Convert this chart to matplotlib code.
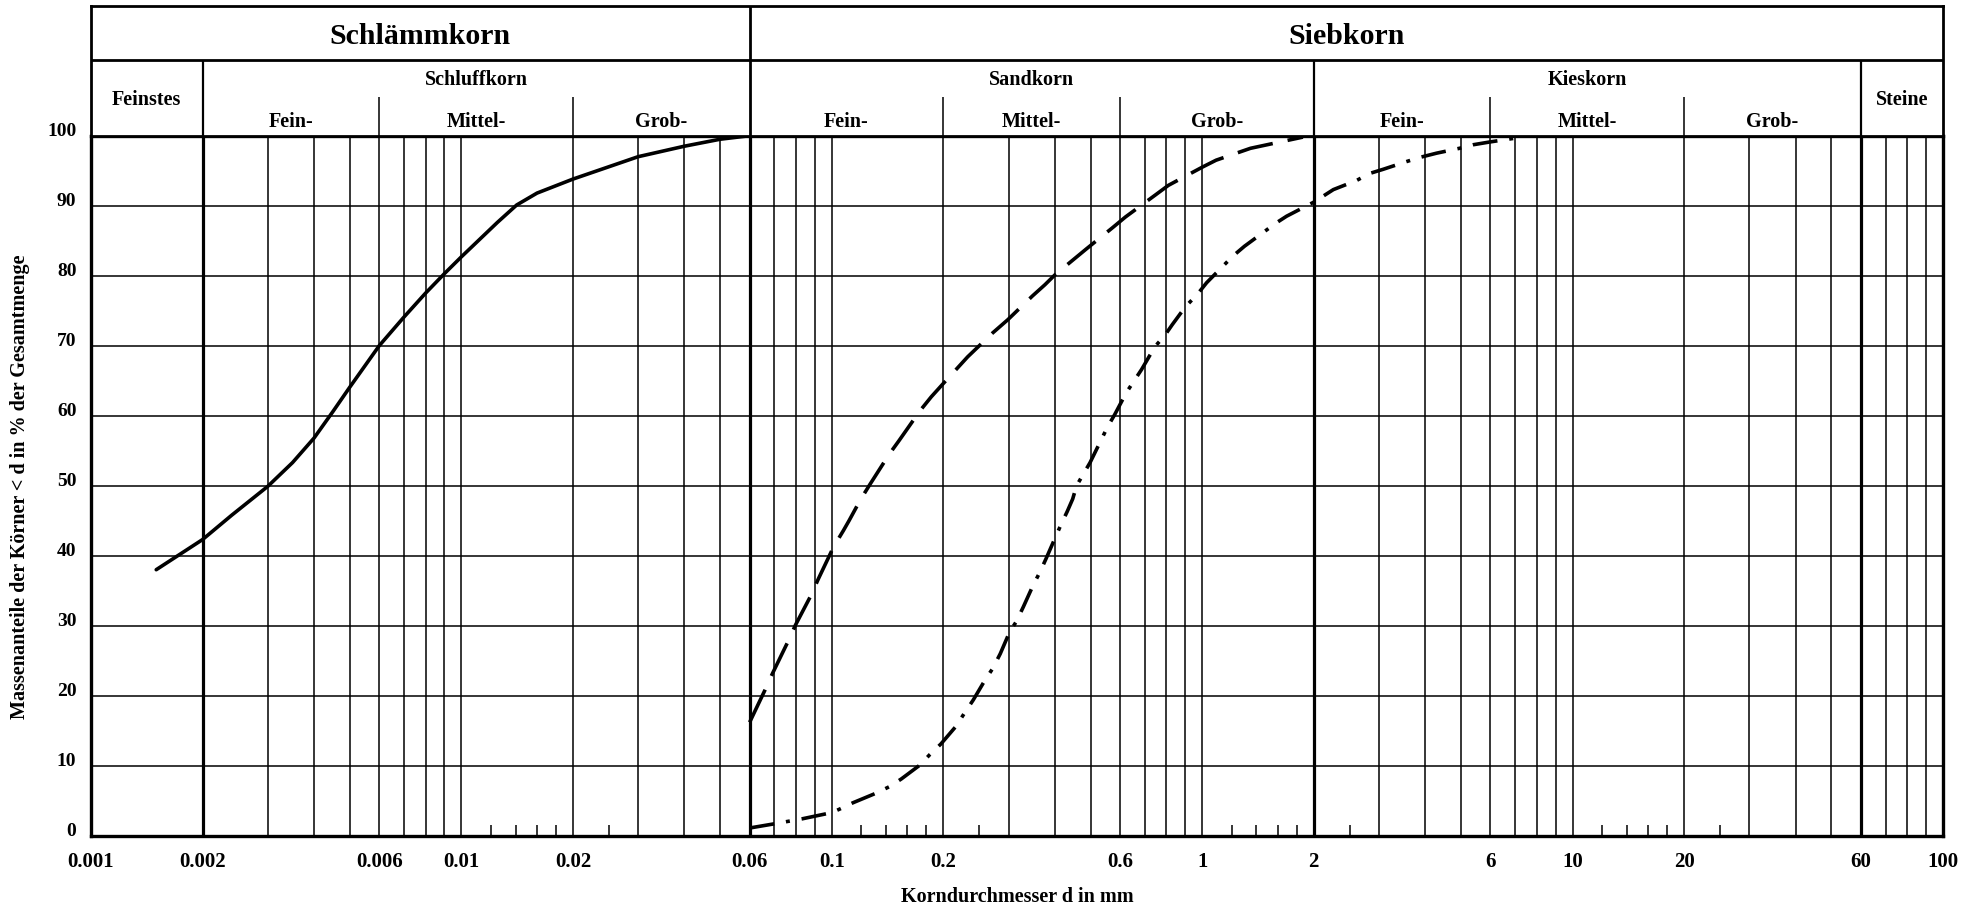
import matplotlib
matplotlib.use('Agg')
import matplotlib.pyplot as plt
from matplotlib.ticker import NullLocator

plt.rcParams['font.family'] = ['Liberation Serif', 'DejaVu Serif']
plt.rcParams['font.weight'] = 'bold'

# --- data (grain diameter in mm, % passing) ---
SOLID_D = [0.0015, 0.002, 0.0024, 0.003, 0.0035, 0.004, 0.0045, 0.005, 0.006,
           0.007, 0.008, 0.009, 0.01, 0.0125, 0.0141, 0.016, 0.02, 0.03, 0.04,
           0.05, 0.06, 0.08]
SOLID_P = [38.0, 42.3, 45.8, 49.9, 53.3, 56.8, 60.6, 64.1, 70.0,
           74.1, 77.5, 80.3, 82.7, 87.6, 90.1, 91.8, 93.8, 97.0, 98.5,
           99.5, 100.0, 100.0]

DASH_D = [0.06, 0.066, 0.0692, 0.0761, 0.0798, 0.0878, 0.092, 0.1012, 0.1075,
          0.1113, 0.1195, 0.1268, 0.1429, 0.1517, 0.173, 0.1856, 0.2, 0.214,
          0.2326, 0.2715, 0.2985, 0.348, 0.376, 0.4, 0.442, 0.486, 0.574,
          0.621, 0.746, 0.81, 1.0, 1.09, 1.35, 1.87]
DASH_P = [16.2, 20.8, 23.2, 27.7, 30.1, 34.3, 36.7, 41.3, 43.6,
          45.0, 48.0, 50.2, 54.5, 56.4, 60.7, 62.7, 64.6, 66.3,
          68.4, 71.8, 73.7, 77.1, 78.7, 80.1, 82.0, 83.8, 86.9,
          88.4, 91.5, 92.9, 95.5, 96.5, 98.2, 99.8]

DASHDOT_D = [0.06, 0.07, 0.083, 0.1, 0.105, 0.114, 0.132, 0.143, 0.154, 0.173,
             0.184, 0.197, 0.217, 0.228, 0.241, 0.259, 0.272, 0.285, 0.302,
             0.315, 0.329, 0.349, 0.365, 0.379, 0.402, 0.417, 0.432, 0.447,
             0.458, 0.498, 0.554, 0.581, 0.624, 0.686, 0.746, 0.791, 0.83,
             0.902, 0.969, 1.028, 1.21, 1.30, 1.58, 1.69, 2.0, 2.26, 2.61,
             2.83, 3.08, 3.56, 3.87, 4.29, 4.95, 5.38, 5.97, 6.9, 7.5]
DASHDOT_P = [1.1, 1.7, 2.4, 3.3, 3.8, 4.7, 6.1, 7.0, 8.1, 10.1,
             11.6, 13.1, 15.7, 17.5, 19.4, 22.2, 23.9, 26.0, 29.1,
             30.6, 32.7, 35.7, 37.7, 39.6, 42.7, 44.6, 46.3, 48.1,
             50.0, 53.3, 58.3, 60.2, 63.3, 66.6, 69.9, 71.4, 73.0,
             75.6, 77.3, 79.0, 82.8, 84.2, 87.5, 88.5, 90.5, 92.3, 93.6,
             94.6, 95.2, 96.3, 96.9, 97.5, 98.2, 98.7, 99.1, 99.6, 100.0]

# axis ticks
X_TICKS = [0.001, 0.002, 0.006, 0.01, 0.02, 0.06, 0.1, 0.2, 0.6, 1, 2, 6,
           10, 20, 60, 100]
X_LABELS = ['0.001', '0.002', '0.006', '0.01', '0.02', '0.06', '0.1', '0.2',
            '0.6', '1', '2', '6', '10', '20', '60', '100']
Y_TICKS = [0, 10, 20, 30, 40, 50, 60, 70, 80, 90, 100]
Y_LABELS = [str(v) for v in Y_TICKS]

# grid of the grading chart
GRID_THIN = [0.003, 0.004, 0.005, 0.006, 0.007, 0.008, 0.009, 0.01,
             0.02, 0.03, 0.04, 0.05,
             0.07, 0.08, 0.09, 0.1, 0.2, 0.3, 0.4, 0.5, 0.6, 0.7, 0.8, 0.9, 1,
             3, 4, 5, 6, 7, 8, 9, 10, 20, 30, 40, 50,
             70, 80, 90]
GRID_THICK = [0.002, 0.06, 2, 60]
GRID_SHORT = [0.012, 0.014, 0.016, 0.018, 0.025,
              0.12, 0.14, 0.16, 0.18, 0.25,
              1.2, 1.4, 1.6, 1.8, 2.5,
              12, 14, 16, 18, 25]
H_GRID = [10, 20, 30, 40, 50, 60, 70, 80, 90]

# header classification
MAIN_GROUPS = [('Schlämmkorn', 0.001, 0.06), ('Siebkorn', 0.06, 100)]
CLASSES = [('Feinstes', 0.001, 0.002, False), ('Schluffkorn', 0.002, 0.06, True),
           ('Sandkorn', 0.06, 2, True), ('Kieskorn', 2, 60, True),
           ('Steine', 60, 100, False)]
SUB_BOUNDS = [0.002, 0.006, 0.02, 0.06, 0.2, 0.6, 2, 6, 20, 60]
SUB_NAMES = ['Fein-', 'Mittel-', 'Grob-']

W, H = 1977, 907
fig = plt.figure(figsize=(W / 100, H / 100), dpi=100)
L, R = 91 / W, 1943 / W
PB, PT = 1 - 835.7 / H, 1 - 135.7 / H
HT = 1 - 6 / H
ax = fig.add_axes([L, PB, R - L, PT - PB])
hx = fig.add_axes([L, PT, R - L, HT - PT])

# ---- main plot ----
ax.set_xscale('log')
ax.set_xlim(0.001, 100)
ax.set_ylim(0, 100)
for y in H_GRID:
    ax.axhline(y, color='black', lw=1.1, zorder=1)
for x in GRID_THIN:
    ax.axvline(x, color='black', lw=1.1, zorder=1)
for x in GRID_THICK:
    ax.axvline(x, color='black', lw=2.3, zorder=1)
ax.vlines(GRID_SHORT, 0, 1.5, color='black', lw=1.1, zorder=1)

ax.plot(SOLID_D, SOLID_P, color='black', lw=2.6, zorder=3,
        solid_capstyle='round', solid_joinstyle='round')
ax.plot(DASH_D, DASH_P, color='black', lw=2.6, zorder=3,
        linestyle=(0, (10, 4.2)))
ax.plot(DASHDOT_D, DASHDOT_P, color='black', lw=2.6, zorder=3,
        linestyle=(0, (6.9, 3.3, 1.1, 3.3)))

ax.set_xticks(X_TICKS, labels=X_LABELS, fontsize=15, fontweight='bold')
ax.xaxis.set_minor_locator(NullLocator())
ax.set_yticks(Y_TICKS, labels=Y_LABELS, fontsize=14, fontweight='bold',
              va='baseline')
ax.tick_params(axis='x', length=0, pad=12)
ax.tick_params(axis='y', length=0, pad=10.5)
for s in ax.spines.values():
    s.set_linewidth(2.4)

fig.text((L + R) / 2, 1 - 896.5 / H, 'Korndurchmesser d in mm',
         ha='center', va='center', fontsize=14.5, fontweight='bold')
fig.text(20 / W, 1 - 487 / H, 'Massenanteile der Körner < d in % der Gesamtmenge',
         ha='center', va='center', rotation=90, fontsize=14.5,
         fontweight='bold')

# ---- header ----
hx.set_xscale('log')
hx.set_xlim(0.001, 100)
hx.set_ylim(0, 1)
hx.set_xticks([])
hx.set_yticks([])
hx.xaxis.set_minor_locator(NullLocator())
for s in hx.spines.values():
    s.set_linewidth(2.0)
row_div = 1 - 54 / 129.7
sub_div = 1 - 91 / 129.7
hx.axhline(row_div, color='black', lw=2.0)
hx.vlines([0.06], 0, 1, color='black', lw=2.0)
hx.vlines([0.002, 2, 60], 0, row_div, color='black', lw=1.6)
inner = [b for b in SUB_BOUNDS if b not in GRID_THICK]
hx.vlines(inner, 0, sub_div, color='black', lw=1.1)

for name, a, b in MAIN_GROUPS:
    hx.text((a * b) ** 0.5, 1 - 30.7 / 129.7, name, ha='center', va='center',
            fontsize=21.5, fontweight='bold')
for name, a, b, split in CLASSES:
    yy = 1 - 74 / 129.7 if split else 1 - 94 / 129.7
    hx.text((a * b) ** 0.5, yy, name, ha='center', va='center',
            fontsize=14.5, fontweight='bold')
for i in range(len(SUB_BOUNDS) - 1):
    a, b = SUB_BOUNDS[i], SUB_BOUNDS[i + 1]
    hx.text((a * b) ** 0.5, 1 - 115.7 / 129.7, SUB_NAMES[i % 3],
            ha='center', va='center', fontsize=14.5, fontweight='bold')

fig.savefig('out.png', dpi=100)
